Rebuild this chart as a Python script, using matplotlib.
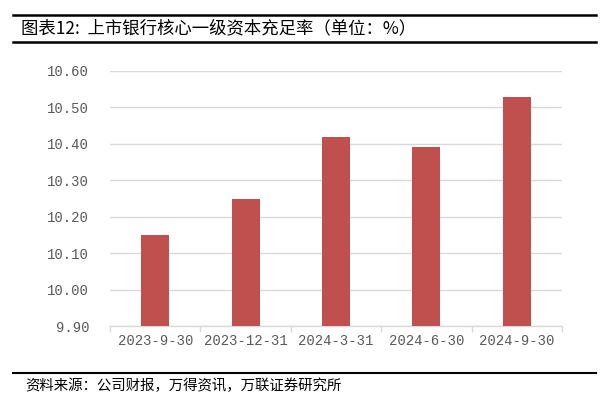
import numpy as np
import matplotlib
matplotlib.use("Agg")
import matplotlib.pyplot as plt
from matplotlib.lines import Line2D

plt.rcParams['font.family'] = ['Noto Sans CJK SC', 'DejaVu Sans']

# Daten
dates = ["2023-9-30", "2023-12-31", "2024-3-31", "2024-6-30", "2024-9-30"]
ratio = [10.15, 10.25, 10.42, 10.39, 10.53]
y_ticks = [9.90, 10.00, 10.10, 10.20, 10.30, 10.40, 10.50, 10.60]

title = "图表12:  上市银行核心一级资本充足率（单位：%）"
source = "资料来源：公司财报，万得资讯，万联证券研究所"

fig = plt.figure(figsize=(6.12, 4.12), dpi=100)
W, H = 612, 412
ax = fig.add_axes([110 / W, 1 - 326 / H, (562 - 110) / W, (326 - 71) / H])

x = np.arange(len(dates))
ax.bar(x, ratio, width=0.31, color="#C0504D", zorder=3)

ax.set_ylim(9.90, 10.60)
ax.set_xlim(-0.5, len(dates) - 0.5)
ax.set_yticks(y_ticks)
ax.set_yticklabels([f"{v:.2f}" for v in y_ticks], color="#595959",
                   fontsize=10, family="Liberation Mono")
ax.yaxis.grid(True, color="#D9D9D9", linewidth=1.0, zorder=0)
ax.tick_params(axis="y", length=0, pad=15)

# Kategorien-Ticks zwischen den Balken
ax.set_xticks(x)
ax.set_xticklabels(dates, color="#595959", fontsize=10, family="Liberation Mono")
ax.tick_params(axis="x", length=0, pad=6)
ax.set_xticks(np.arange(len(dates) + 1) - 0.5, minor=True)
ax.tick_params(axis="x", which="minor", length=4, color="#D9D9D9", width=1)

for s in ["top", "right", "left"]:
    ax.spines[s].set_visible(False)
ax.spines["bottom"].set_color("#D9D9D9")
ax.spines["bottom"].set_linewidth(1.0)

# Titel und Quelle mit Linien
def hline(y, lw):
    fig.add_artist(Line2D([13 / W, 596 / W], [1 - y / H, 1 - y / H],
                          color="black", linewidth=lw, transform=fig.transFigure))

hline(15, 1.8)
hline(42, 1.8)
hline(373, 1.5)
fig.text(21 / W, 1 - 28 / H, title, fontsize=12.5, va="center", ha="left")
fig.text(25 / W, 1 - 386 / H, source, fontsize=10.4, va="center", ha="left",
         style="italic")

fig.savefig("out.png", dpi=100)
